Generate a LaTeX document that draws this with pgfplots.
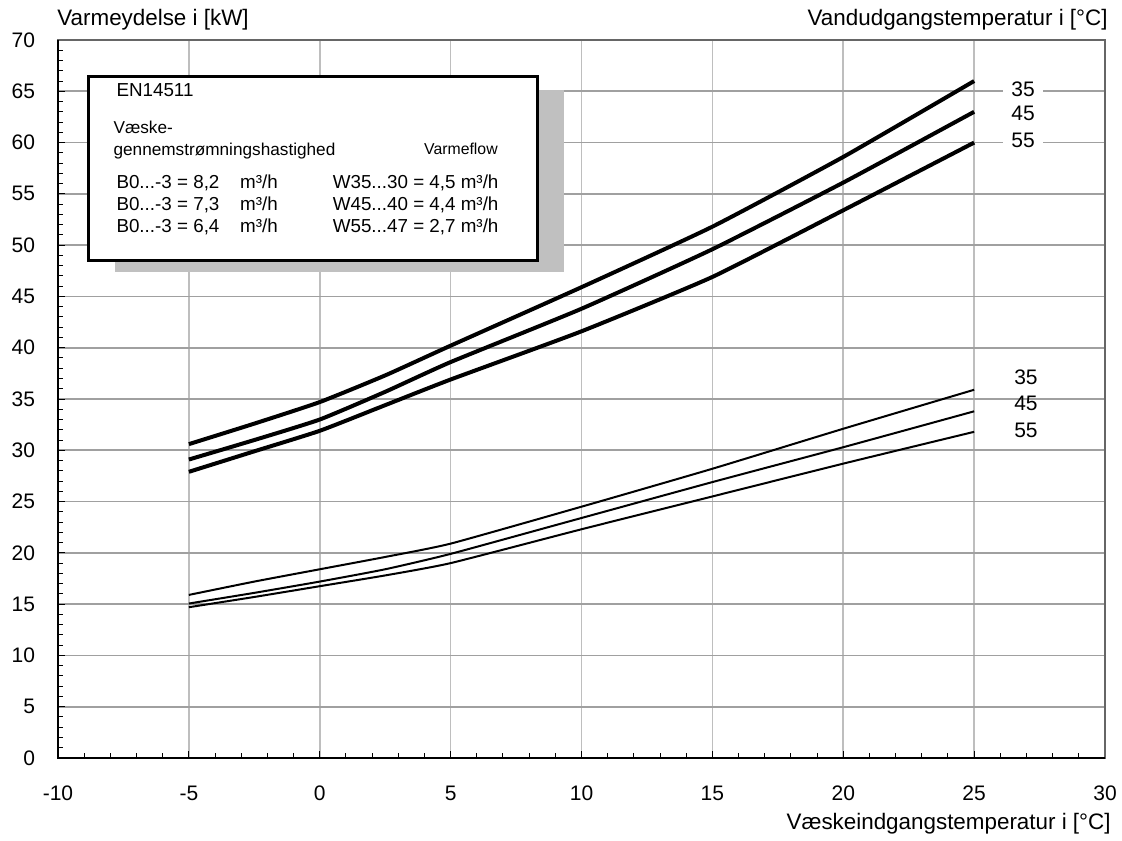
\documentclass[border=0pt]{standalone}
\usepackage{fontspec}
\setmainfont{Liberation Sans}
\usepackage{pgfplots}
\pgfplotsset{compat=1.18}

\definecolor{gridh}{HTML}{A0A0A0}
\definecolor{gridv}{HTML}{BEBEBE}
\definecolor{shadow}{HTML}{C0C0C0}

\begin{document}
\begin{tikzpicture}
\useasboundingbox (-29pt,-41pt) rectangle (532pt,379pt);
\begin{axis}[
  scale only axis,
  width=523.5pt, height=359pt,
  xmin=-10, xmax=30, ymin=0, ymax=70,
  xtick={-10,-5,...,30}, ytick={0,5,...,70},
  minor tick num=4,
  tick pos=left, tick align=inside,
  major tick length=3.5pt, minor tick length=2.5pt,
  every tick/.style={black, line width=0.5pt},
  axis line style={draw=gray!80!black, line width=0.8pt},
  xmajorgrids, ymajorgrids,
  x grid style={gridv, line width=0.8pt},
  y grid style={gridh, line width=0.8pt},
  /pgf/number format/assume math mode=true,
  ticklabel style={font=\fontsize{10.5}{12}\selectfont},
  yticklabel style={xshift=-8pt},
  xticklabel style={anchor=base, yshift=-21pt},
  clip=false,
]
\draw[black, line width=0.8pt] (rel axis cs:0,1) -- (rel axis cs:0,0) -- (rel axis cs:1,0);

% legend box with shadow
\fill[shadow] (axis cs:-7.822,47.40) rectangle (axis cs:9.331,65.17);
\draw[black, fill=white, line width=1.5pt] (axis cs:-8.816,48.47) rectangle (axis cs:8.311,66.40);

% thick curves
\addplot[black, line width=2pt, smooth, tension=0.3] coordinates {
  (-5,30.6) (-2.5,32.6) (0,34.7) (2.5,37.3) (5,40.2) (10,45.9) (15,51.8) (20,58.6) (25,66.0)};
\addplot[black, line width=2pt, smooth, tension=0.3] coordinates {
  (-5,29.1) (-2.5,31.0) (0,33.0) (2.5,35.7) (5,38.6) (10,43.8) (15,49.6) (20,56.1) (25,63.0)};
\addplot[black, line width=2pt, smooth, tension=0.3] coordinates {
  (-5,27.9) (-2.5,29.9) (0,31.9) (2.5,34.4) (5,36.9) (10,41.6) (15,46.9) (20,53.4) (25,60.0)};
% thin curves
\addplot[black, line width=1pt, smooth, tension=0.3] coordinates {
  (-5,15.9) (-2.5,17.2) (0,18.4) (2.5,19.6) (5,20.9) (10,24.5) (15,28.2) (20,32.1) (25,35.9)};
\addplot[black, line width=1pt, smooth, tension=0.3] coordinates {
  (-5,15.06) (-2.5,16.1) (0,17.2) (2.5,18.4) (5,19.9) (10,23.4) (15,26.9) (20,30.3) (25,33.8)};
\addplot[black, line width=1pt, smooth, tension=0.3] coordinates {
  (-5,14.7) (-2.5,15.7) (0,16.75) (2.5,17.8) (5,19.0) (10,22.3) (15,25.5) (20,28.7) (25,31.8)};

% curve labels
\begin{scope}[every node/.style={font=\fontsize{10.5}{12}\selectfont, inner sep=0pt}]
\node[fill=white, inner xsep=4pt, inner ysep=1pt] at (axis cs:26.87,65.2) {35};
\node[fill=white, inner xsep=4pt, inner ysep=1pt] at (axis cs:26.87,62.8) {45};
\node[fill=white, inner xsep=4pt, inner ysep=1pt] at (axis cs:26.87,60.2) {55};
\node at (axis cs:26.98,37.1) {35};
\node at (axis cs:26.98,34.6) {45};
\node at (axis cs:26.98,31.9) {55};
\end{scope}

% legend text
\begin{scope}[every node/.style={inner sep=0pt, font=\fontsize{9.4}{11}\selectfont}]
\node[anchor=base west] at (rel axis cs:0.0555,0.9210) {EN14511};
\node[anchor=base west, font=\fontsize{8.6}{10}\selectfont] at (rel axis cs:0.0527,0.8701) {Væske-};
\node[anchor=base west, font=\fontsize{8.6}{10}\selectfont] at (rel axis cs:0.0527,0.8398) {gennemstrømningshastighed};
\node[anchor=base east, font=\fontsize{7.9}{9}\selectfont] at (rel axis cs:0.4203,0.8412) {Varmeflow};
\node[anchor=base west] at (rel axis cs:0.0555,0.7933) {B0...-3 = 8,2};
\node[anchor=base west] at (rel axis cs:0.0555,0.7621) {B0...-3 = 7,3};
\node[anchor=base west] at (rel axis cs:0.0555,0.7320) {B0...-3 = 6,4};
\node[anchor=base west] at (rel axis cs:0.1736,0.7933) {m³/h};
\node[anchor=base west] at (rel axis cs:0.1736,0.7621) {m³/h};
\node[anchor=base west] at (rel axis cs:0.1736,0.7320) {m³/h};
\node[anchor=base west] at (rel axis cs:0.2621,0.7933) {W35...30 = 4,5 m³/h};
\node[anchor=base west] at (rel axis cs:0.2621,0.7621) {W45...40 = 4,4 m³/h};
\node[anchor=base west] at (rel axis cs:0.2621,0.7320) {W55...47 = 2,7 m³/h};
\end{scope}

% axis titles
\begin{scope}[every node/.style={inner sep=0pt, font=\fontsize{11.2}{13}\selectfont}]
\node[anchor=base west] at ([xshift=-0.5pt, yshift=7.5pt]rel axis cs:0,1) {Varmeydelse i [kW]};
\node[anchor=base east] at ([xshift=1.5pt, yshift=7.5pt]rel axis cs:1,1) {Vandudgangstemperatur i [°C]};
\node[anchor=base east] at ([xshift=3pt, yshift=-35.5pt]rel axis cs:1,0) {Væskeindgangstemperatur i [°C]};
\end{scope}
\end{axis}
\end{tikzpicture}
\end{document}
